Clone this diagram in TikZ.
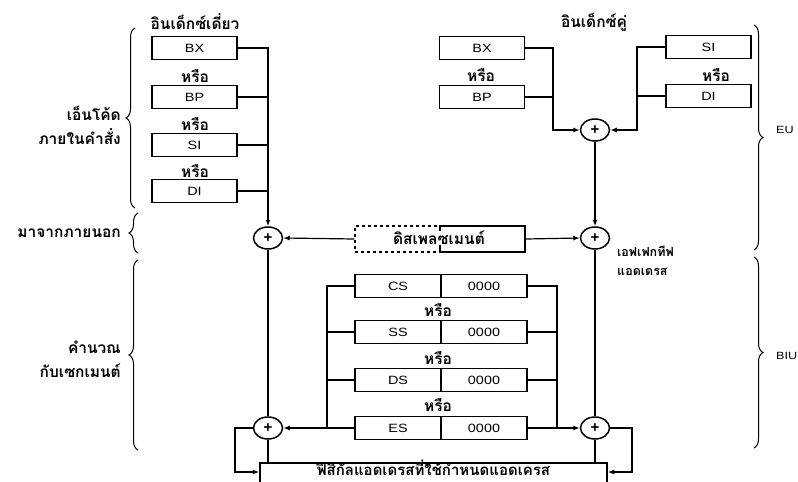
\documentclass[tikz,border=0pt]{standalone}
\usepackage{fontspec}
\setmainfont{Liberation Sans}
\newfontfamily\thaifont[Script=Thai]{Loma}
\newfontfamily\regfont[FakeStretch=1.2]{Liberation Sans}
\usetikzlibrary{arrows.meta,decorations.pathreplacing,shapes.geometric}
\tikzset{
  reg/.style={draw, line width=1.5pt, minimum width=85pt, minimum height=23pt,
    inner sep=0pt, font=\regfont\fontsize{12}{13}\selectfont},
  sumnode/.style={ellipse, draw, line width=1.5pt, minimum width=29pt,
    minimum height=22pt, inner sep=0pt, font=\bfseries\fontsize{15}{15}\selectfont},
  thai/.style={font=\thaifont\bfseries\fontsize{15.5}{24}\selectfont, inner sep=1pt},
  orlbl/.style={thai},
  unitlbl/.style={font=\regfont\fontsize{10.5}{11}\selectfont, anchor=west, inner sep=0pt},
  wire/.style={line width=1.2pt},
  flow/.style={line width=1.2pt, -{Latex[length=6.5pt,width=5pt]}},
  brc/.style={decorate, decoration={brace, amplitude=9pt}, line width=1pt}
}
\begin{document}
\begin{tikzpicture}[x=1pt,y=-1pt]
  \useasboundingbox (0,0) rectangle (798,482);
  % single index registers
  \node[thai] (singlehd) at (195,22) {อินเด็กซ์เดี่ยว};
  \node[reg] (sbx) at (194.5,48) {BX};
  \node[orlbl] (sor1) at (195,76) {หรือ};
  \node[reg] (sbp) at (194.5,97) {BP};
  \node[orlbl] (sor2) at (195,124) {หรือ};
  \node[reg] (ssi) at (194.5,145) {SI};
  \node[orlbl] (sor3) at (195,171) {หรือ};
  \node[reg] (sdi) at (194.5,191) {DI};
  % double index registers
  \node[thai] (dualhd) at (594,22) {อินเด็กซ์คู่};
  \node[reg] (dbx) at (482,48) {BX};
  \node[orlbl] (dor1) at (481,75) {หรือ};
  \node[reg] (dbp) at (482,97) {BP};
  \node[reg] (dsi) at (708.5,47) {SI};
  \node[orlbl] (dor2) at (716,75) {หรือ};
  \node[reg] (ddi) at (708.5,96) {DI};
  % adders
  \node[sumnode] (dsum) at (595,130) {+};
  \node[sumnode] (lsum) at (268,238) {+};
  \node[sumnode] (rsum) at (595,238) {+};
  \node[sumnode] (lseg) at (268,428) {+};
  \node[sumnode] (rseg) at (595,428) {+};
  % displacement
  \node[reg, dashed, minimum width=85pt, minimum height=26pt] (displ) at (397.5,239) {};
  \node[reg, minimum width=85pt, minimum height=26pt] (dispr) at (482.5,239) {};
  \node[thai, fill=white, inner sep=0pt] (disp) at (439,238) {ดิสเพลซเมนต์};
  % segment registers
  \node[reg, minimum width=86pt] (cs) at (398,286) {CS};
  \node[reg, minimum width=86pt] (csoff) at (484,286) {0000};
  \node[orlbl] (gor1) at (438,310) {หรือ};
  \node[reg, minimum width=86pt] (ss) at (398,332) {SS};
  \node[reg, minimum width=86pt] (ssoff) at (484,332) {0000};
  \node[orlbl] (gor2) at (438,358) {หรือ};
  \node[reg, minimum width=86pt] (ds) at (398,380) {DS};
  \node[reg, minimum width=86pt] (dsoff) at (484,380) {0000};
  \node[orlbl] (gor3) at (438,405) {หรือ};
  \node[reg, minimum width=86pt] (es) at (398,428) {ES};
  \node[reg, minimum width=86pt] (esoff) at (484,428) {0000};
  % physical address
  \node[reg, minimum width=347pt, minimum height=30pt] (phys) at (433.5,478) {};
  \node[thai, inner sep=0pt, font=\thaifont\bfseries\fontsize{15}{18}\selectfont]
    (physl) at (433.5,467.5) {ฟิสิกัลแอดเดรสที่ใช้กำหนดแอดเครส};
  \node[thai, anchor=west, align=left, font=\thaifont\bfseries\fontsize{12.5}{19}\selectfont]
    (effaddr) at (616,261) {เอฟเฟกทีฟ\\แอดเดรส};
  % side labels
  \node[thai, anchor=east, align=right] (encl) at (122,125) {เอ็นโค้ด\\ภายในคำสั่ง};
  \node[thai, anchor=east] (extl) at (122,233) {มาจากภายนอก};
  \node[thai, anchor=east, align=right] (segcl) at (122,359) {คำนวณ\\กับเซกเมนต์};
  \node[unitlbl] (eul) at (776,130) {EU};
  \node[unitlbl] (biul) at (776,356) {BIU};
  % joining points
  \coordinate (djoin) at (553,130);
  \coordinate (sjoin) at (637,130);
  \coordinate (segl) at (327,428);
  \coordinate (segr) at (557,428);
  \coordinate (lloop) at (235,472);
  \coordinate (rloop) at (632,472);
  % single index bus
  \draw[flow] (sbx.east) -| (lsum.north);
  \draw[wire] (sbp.east) -- (sbp.east -| lsum);
  \draw[wire] (ssi.east) -- (ssi.east -| lsum);
  \draw[wire] (sdi.east) -- (sdi.east -| lsum);
  % double index
  \draw[flow] (dbx.east) -| (djoin) -- (dsum.west);
  \draw[wire] (dbp.east) -- (dbp.east -| djoin);
  \draw[flow] (dsi.west) -| (sjoin) -- (dsum.east);
  \draw[wire] (ddi.west) -- (ddi.west -| sjoin);
  \draw[flow] (dsum) -- (rsum);
  % displacement
  \draw[flow] (displ.west) -- (lsum.east);
  \draw[flow] (dispr.east) -- (rsum.west);
  % segment
  \draw[wire] (cs.west) -| (segl);
  \draw[wire] (ss.west) -- (ss.west -| segl);
  \draw[wire] (ds.west) -- (ds.west -| segl);
  \draw[flow] (es.west) -- (lseg.east);
  \draw[wire] (csoff.east) -| (segr);
  \draw[wire] (ssoff.east) -- (ssoff.east -| segr);
  \draw[wire] (dsoff.east) -- (dsoff.east -| segr);
  \draw[flow] (esoff.east) -- (rseg.west);
  \draw[wire] (lsum) -- (lseg);
  \draw[wire] (rsum) -- (rseg);
  \draw[wire] (lseg) -- (lseg |- phys.north);
  \draw[wire] (rseg) -- (rseg |- phys.north);
  \draw[flow] (lseg.west) -| (lloop) -- (lloop -| phys.west);
  \draw[flow] (rseg.east) -| (rloop) -- (rloop -| phys.east);
  % braces
  \draw[brc] (135,208) -- (135,28);
  \draw[brc] (138,253) -- (138,213);
  \draw[brc] (138,450) -- (138,260);
  \draw[brc] (754,25) -- (754,250);
  \draw[brc] (754,257) -- (754,448);
\end{tikzpicture}
\end{document}
